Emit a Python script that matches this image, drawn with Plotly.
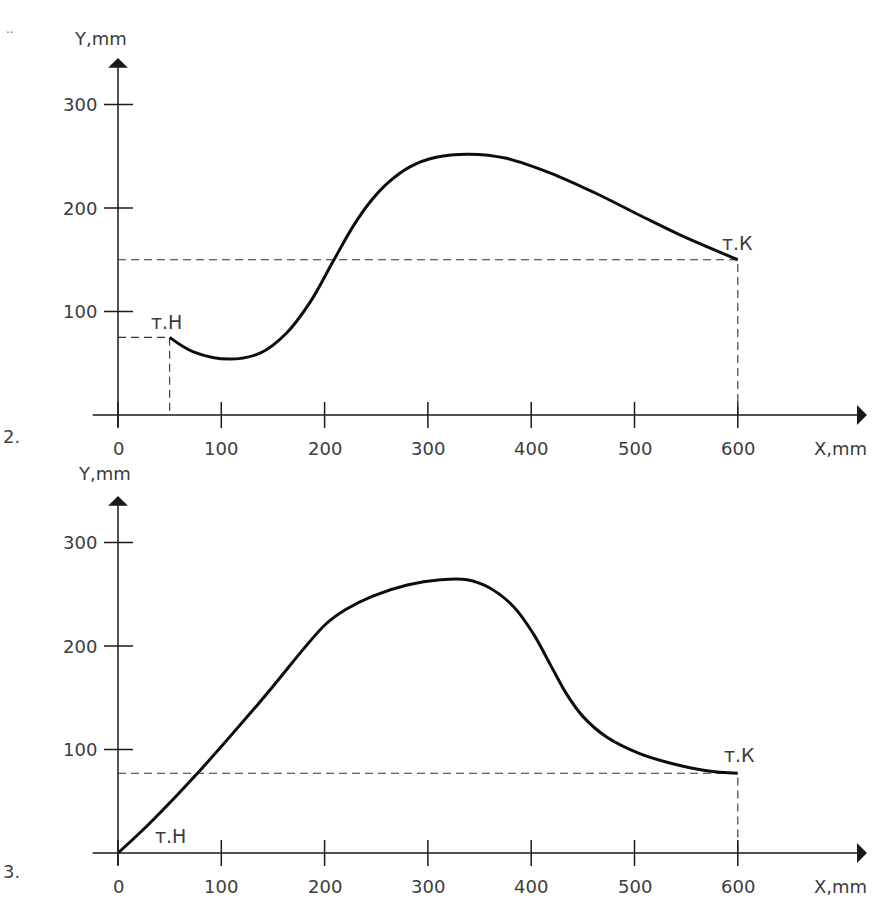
import plotly.graph_objects as go

# ---------------- data ----------------
top_x = [50, 73, 108, 138, 163, 186, 208, 228, 245, 262, 283, 308, 340, 376, 418, 463, 505, 544, 600]
top_y = [75, 61, 54, 60, 79, 109, 148, 183, 207, 225, 240, 249, 252, 248, 234, 214, 193, 174, 150]

bot_x = [0, 31, 76, 140, 201, 220, 246, 280, 312, 338, 360, 383, 402, 418, 434, 450, 473, 505, 538, 570, 600]
bot_y = [0, 29, 76, 149, 221, 235, 248, 259, 264, 264, 256, 238, 212, 183, 154, 132, 112, 96, 86, 79.5, 77]

x_ticks = [0, 100, 200, 300, 400, 500, 600]
y_ticks = [100, 200, 300]

top_start = (50, 75)
top_end = (600, 150)
bot_start = (0, 0)
bot_end = (600, 77)

start_label = "т.Н"
end_label = "т.К"
x_title = "X,mm"
y_title = "Y,mm"

# ---------------- figure ----------------
W, H = 874, 903
fig = go.Figure()

INK = "#1a1a1a"
TXT = "#3c3c3c"
FONT = "DejaVu Sans"
FS = 18

panels = [
    dict(xa="x", ya="y", cx=top_x, cy=top_y, s=top_start, e=top_end,
         sl=(47, 90), el=(600, 166), ytl=(-17, 364), top_dash=True),
    dict(xa="x2", ya="y2", cx=bot_x, cy=bot_y, s=bot_start, e=bot_end,
         sl=(51, 16), el=(602, 95), ytl=(-13, 367), top_dash=False),
]

dash = dict(color="#333333", width=1.1, dash="8px,5px")

for p in panels:
    sx, sy = p["s"]
    ex, ey = p["e"]
    # dashed guide lines
    fig.add_trace(go.Scatter(x=[0, ex, ex], y=[ey, ey, 0], mode="lines",
                             line=dash, xaxis=p["xa"], yaxis=p["ya"],
                             hoverinfo="skip", showlegend=False))
    if p["top_dash"]:
        fig.add_trace(go.Scatter(x=[0, sx, sx], y=[sy, sy, 0], mode="lines",
                                 line=dash, xaxis=p["xa"], yaxis=p["ya"],
                                 hoverinfo="skip", showlegend=False))
    # trajectory curve
    fig.add_trace(go.Scatter(x=p["cx"], y=p["cy"], mode="lines",
                             line=dict(color="#0d0d0d", width=3, shape="spline", smoothing=1.0),
                             xaxis=p["xa"], yaxis=p["ya"], hoverinfo="skip", showlegend=False))

    # axes with arrows
    fig.add_annotation(x=725, y=0, ax=-26, ay=0, xref=p["xa"], yref=p["ya"],
                       axref=p["xa"], ayref=p["ya"], text="", showarrow=True,
                       arrowhead=1, arrowsize=2.2, arrowwidth=1.5, arrowcolor=INK)
    fig.add_annotation(x=0, y=345, ax=0, ay=-13, xref=p["xa"], yref=p["ya"],
                       axref=p["xa"], ayref=p["ya"], text="", showarrow=True,
                       arrowhead=1, arrowsize=2.2, arrowwidth=1.5, arrowcolor=INK)

    # ticks (crossing the axis)
    for t in x_ticks:
        fig.add_shape(type="line", xref=p["xa"], yref=p["ya"], x0=t, x1=t,
                      ysizemode="pixel", yanchor=0, y0=-13, y1=13,
                      line=dict(color=INK, width=1.5))
        fig.add_annotation(x=t, y=0, xref=p["xa"], yref=p["ya"], text=str(t),
                           showarrow=False, yshift=-33,
                           font=dict(family=FONT, size=FS, color=TXT))
    for t in y_ticks:
        fig.add_shape(type="line", xref=p["xa"], yref=p["ya"], y0=t, y1=t,
                      xsizemode="pixel", xanchor=0, x0=-14, x1=15,
                      line=dict(color=INK, width=1.5))
        fig.add_annotation(x=0, y=t, xref=p["xa"], yref=p["ya"], text=str(t),
                           showarrow=False, xanchor="right", xshift=-19,
                           font=dict(family=FONT, size=FS, color=TXT))

    # axis titles
    fig.add_annotation(x=699, y=0, xref=p["xa"], yref=p["ya"], text=x_title,
                       showarrow=False, yshift=-33,
                       font=dict(family=FONT, size=FS, color=TXT))
    fig.add_annotation(x=p["ytl"][0], y=p["ytl"][1], xref=p["xa"], yref=p["ya"],
                       text=y_title, showarrow=False,
                       font=dict(family=FONT, size=FS, color=TXT))

    # point labels
    fig.add_annotation(x=p["sl"][0], y=p["sl"][1], xref=p["xa"], yref=p["ya"],
                       text=start_label, showarrow=False,
                       font=dict(family=FONT, size=19, color=TXT))
    fig.add_annotation(x=p["el"][0], y=p["el"][1], xref=p["xa"], yref=p["ya"],
                       text=end_label, showarrow=False,
                       font=dict(family=FONT, size=19, color=TXT))

# figure-number fragments at the left edge
for txt, ypx in [("2.", 436), ("3.", 884)]:
    fig.add_annotation(x=0, y=1 - ypx / H, xref="paper", yref="paper", text=txt,
                       showarrow=False, xanchor="left", xshift=1,
                       font=dict(family=FONT, size=18, color="#444444"))
fig.add_annotation(x=0, y=1 - 20 / H, xref="paper", yref="paper", text="..",
                   showarrow=False, xanchor="left", xshift=4,
                   font=dict(family=FONT, size=12, color="#666666"))

x0px, xs = 118.0, 1.033
xr = [-x0px / xs, (W - x0px) / xs]
split = 450
top_dom = [1 - split / H, 1]
bot_dom = [0, 1 - split / H]
ys = 1.035
top_yr = [(415 - split) / ys, 415 / ys]
bot_yr = [(853 - H) / ys, (853 - split) / ys]

ax_common = dict(visible=False, showgrid=False, zeroline=False, fixedrange=True)
fig.update_layout(
    width=W, height=H,
    margin=dict(l=0, r=0, t=0, b=0),
    paper_bgcolor="white", plot_bgcolor="white",
    showlegend=False,
    xaxis=dict(domain=[0, 1], range=xr, anchor="y", **ax_common),
    yaxis=dict(domain=top_dom, range=top_yr, anchor="x", **ax_common),
    xaxis2=dict(domain=[0, 1], range=xr, anchor="y2", **ax_common),
    yaxis2=dict(domain=bot_dom, range=bot_yr, anchor="x2", **ax_common),
)

fig.write_html("out.html", config={"displayModeBar": False},
               post_script="document.body.style.margin='0';document.body.style.overflow='hidden';")
